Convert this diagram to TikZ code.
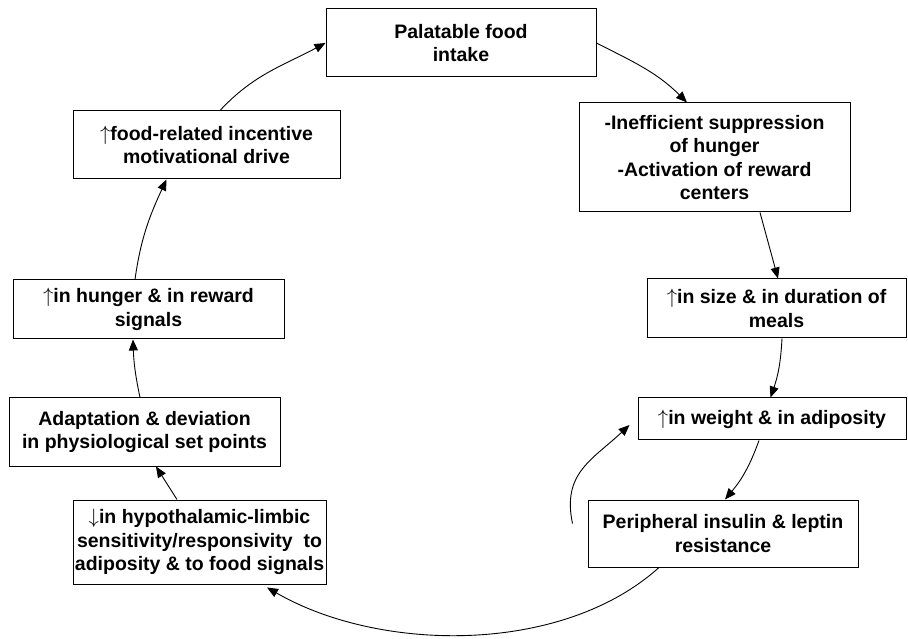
\documentclass[tikz,border=0pt]{standalone}
\usepackage{fontspec}
\setmainfont{Liberation Sans}
\usetikzlibrary{arrows.meta,positioning}

\tikzset{
	box/.style={draw, rectangle, line width=1pt, align=center, inner sep=0pt,
		font=\bfseries\fontsize{19.5}{23.5}\selectfont},
}

\begin{document}
\begin{tikzpicture}[->,>={Triangle[length=11pt,width=9pt]},line width=0.9pt,x=1pt,y=1pt]
	\useasboundingbox (0,0) rectangle (908,638);

	\node	[box, minimum width=270pt, minimum height=68pt]		(intake)	at (461,595)		{Palatable food\\intake};
	\node	[box, minimum width=271pt, minimum height=109pt]	(suppress)	at (714.5,480.5)	{-Inefficient suppression\\of hunger\\-Activation of reward\\centers};
	\node	[box, minimum width=259pt, minimum height=59pt]		(meals)		at (776.5,329.5)	{$\uparrow$in size \& in duration of\\meals};
	\node	[box, minimum width=268pt, minimum height=42pt]		(weight)	at (772,219)		{$\uparrow$in weight \& in adiposity};
	\node	[box, minimum width=270pt, minimum height=67pt]		(resist)	at (723,104.5)		{Peripheral insulin \& leptin\\resistance};
	\node	[box, minimum width=253pt, minimum height=84pt]		(sens)		at (199.5,96)		{$\downarrow$in hypothalamic-limbic\\sensitivity/responsivity~ to\\adiposity \& to food signals};
	\node	[box, minimum width=271pt, minimum height=68pt]		(setpt)		at (144.5,206)		{Adaptation \& deviation\\in physiological set points};
	\node	[box, minimum width=271pt, minimum height=59pt]		(hunger)	at (148.5,328.5)	{$\uparrow$in hunger \& in reward\\signals};
	\node	[box, minimum width=267pt, minimum height=68pt]		(drive)		at (206.5,493)		{$\uparrow$food-related incentive\\motivational drive};

	% free ends of the feedback arc
	\coordinate	(fbs)	at ([xshift=-15,yshift=10]resist.west);
	\coordinate	(fbe)	at ([xshift=-8,yshift=-6]weight.west);

	\path
		([xshift=13.5]drive.north)		edge	[out=47,in=208]					(intake.west)
		(intake.east)					edge	[out=-27,in=135]				([xshift=-27.5]suppress.north)
		([xshift=45.5]suppress.south)	edge									([xshift=1.5]meals.north)
		([xshift=5.5]meals.south)		edge	[bend left=8]					([xshift=-1.5]weight.north)
		([xshift=-13]weight.south)		edge	[bend left=10]					([xshift=2]resist.north)
		(fbs)							edge	[out=102,in=223,looseness=1.15]	(fbe)
		([xshift=-64]resist.south)		edge	[out=222,in=-30,looseness=0.85]	([xshift=67.5,yshift=-3]sens.south)
		([xshift=-22.5]sens.north)		edge									([xshift=11.5]setpt.south)
		([xshift=-4.5]setpt.north)		edge	[bend left=5]					([xshift=-15.5]hunger.south)
		([xshift=-13.5]hunger.north)	edge	[out=82,in=-115]				([xshift=-40]drive.south)
	;
\end{tikzpicture}
\end{document}
